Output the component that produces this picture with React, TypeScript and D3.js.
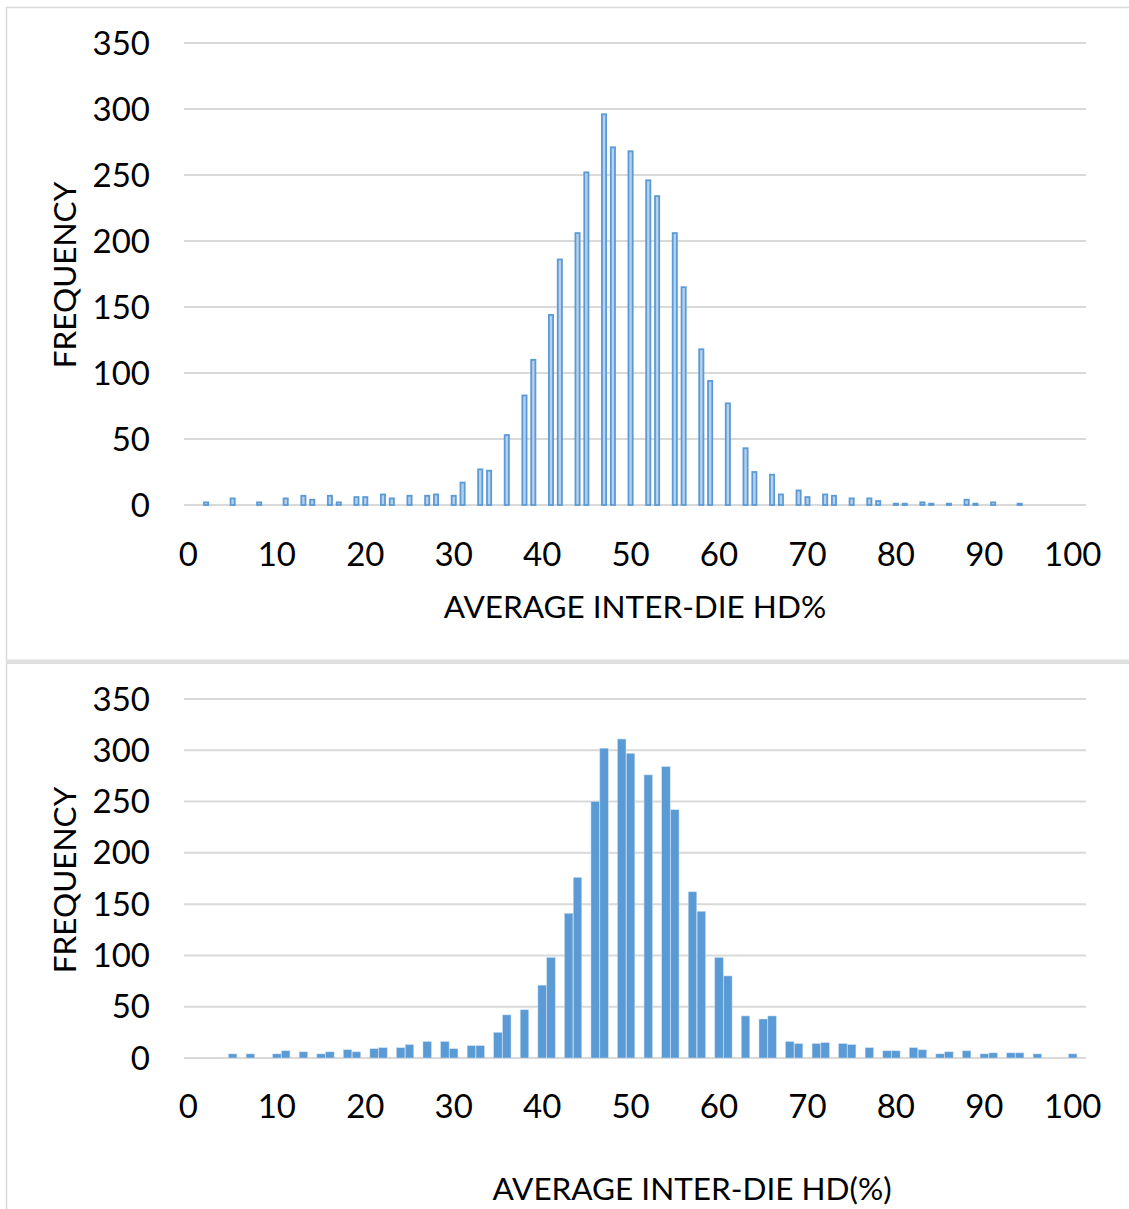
import React from "react";
import * as d3 from "d3";

const topCategories = [2,5,8,11,13,14,16,17,19,20,22,23,25,27,28,30,31,33,34,36,38,39,41,42,44,45,47,48,50,52,53,55,56,58,59,61,63,64,66,67,69,70,72,73,75,77,78,80,81,83,84,86,88,89,91,94];
const topValues = [2,5,2,5,7,4,7,2,6,6,8,5,7,7,8,7,17,27,26,53,83,110,144,186,206,252,296,271,268,246,234,206,165,118,94,77,43,25,23,8,11,6,8,7,5,5,3,1,1,2,1,1,4,1,2,1];

const bottomCategories = [5,7,10,11,13,15,16,18,19,21,22,24,25,27,29,30,32,33,35,36,38,40,41,43,44,46,47,49,50,52,54,55,57,58,60,61,63,65,66,68,69,71,72,74,75,77,79,80,82,83,85,86,88,90,91,93,94,96,100];
const bottomValues = [4,4,4,7,6,4,6,8,6,9,10,10,13,16,16,9,12,12,25,42,47,71,98,141,176,250,302,311,297,276,284,242,162,143,98,80,41,38,41,16,14,14,15,14,13,10,7,7,10,8,4,6,7,4,5,5,5,4,4];

const yTicks = [0, 50, 100, 150, 200, 250, 300, 350];
const xTickLabels = [0, 10, 20, 30, 40, 50, 60, 70, 80, 90, 100];
const allCategories = d3.range(0, 102);

const FONT = "Lato, Calibri, sans-serif";
const GRID = "#d9d9d9";

type PanelProps = {
  cats: number[];
  vals: number[];
  y0: number;
  y1: number;
  xLabelY: number;
  title: string;
  titleX: number;
  titleY: number;
  freqY: number;
  outline: boolean;
};

function Panel({ cats, vals, y0, y1, xLabelY, title, titleX, titleY, freqY, outline }: PanelProps) {
  const x = d3.scaleBand<number>().domain(allCategories).range([184, 1086]).padding(0);
  const y = d3.scaleLinear().domain([0, 350]).range([y0, y1]);
  const bw = x.bandwidth();
  const cx = (c: number) => (x(c) as number) + bw / 2;
  return (
    <g>
      {yTicks.map((t) => (
        <line key={"g" + t} x1={184} x2={1086} y1={y(t)} y2={y(t)} stroke={GRID} strokeWidth={2} />
      ))}
      {cats.map((c, i) => {
        const v = vals[i];
        if (outline) {
          const w = 4.2;
          return (
            <rect key={"b" + i} x={cx(c) - w / 2} y={y(v)} width={w} height={Math.max(0.5, y0 - y(v))}
              fill="#b7d0ee" stroke="#5b9bd5" strokeWidth={1.8} />
          );
        }
        const w = bw - 0.4;
        return (
          <rect key={"b" + i} x={cx(c) - w / 2} y={y(v)} width={w} height={y0 - y(v)}
            fill="#5b9bd5" stroke="#c5daf0" strokeWidth={0.5} />
        );
      })}
      {yTicks.map((t) => (
        <text key={"yl" + t} x={150} y={y(t) - 1.5} textAnchor="end" dominantBaseline="central"
          fontFamily={FONT} fontSize={33} fill="#000">{t}</text>
      ))}
      {xTickLabels.map((t) => (
        <text key={"xl" + t} x={cx(t)} y={xLabelY - 1.5} textAnchor="middle" dominantBaseline="central"
          fontFamily={FONT} fontSize={33} fill="#000">{t}</text>
      ))}
      <text x={titleX} y={titleY - 1.5} textAnchor="middle" dominantBaseline="central"
        fontFamily={FONT} fontSize={31.5} fill="#000">{title}</text>
      <text transform={`translate(64,${freqY}) rotate(-90)`} textAnchor="middle" dominantBaseline="central"
        fontFamily={FONT} fontSize={31.5} fill="#000">FREQUENCY</text>
    </g>
  );
}

export default function App() {
  return (
    <svg width={1129} height={1209} style={{ position: "absolute", left: 0, top: 0, background: "#fff" }}>
      <rect x={0} y={0} width={1129} height={1209} fill="#fff" />
      <line x1={6.5} x2={6.5} y1={7} y2={1209} stroke={GRID} strokeWidth={1.5} />
      <line x1={6} x2={1129} y1={7.5} y2={7.5} stroke={GRID} strokeWidth={1.5} />
      <rect x={6} y={659.5} width={1123} height={4.5} fill="#e0e0e0" />
      <Panel cats={topCategories} vals={topValues} y0={505} y1={43} xLabelY={554}
        title="AVERAGE INTER-DIE HD%" titleX={635} titleY={607} freqY={275} outline={true} />
      <Panel cats={bottomCategories} vals={bottomValues} y0={1058} y1={699} xLabelY={1106}
        title="AVERAGE INTER-DIE HD(%)" titleX={692} titleY={1189} freqY={880} outline={false} />
    </svg>
  );
}
